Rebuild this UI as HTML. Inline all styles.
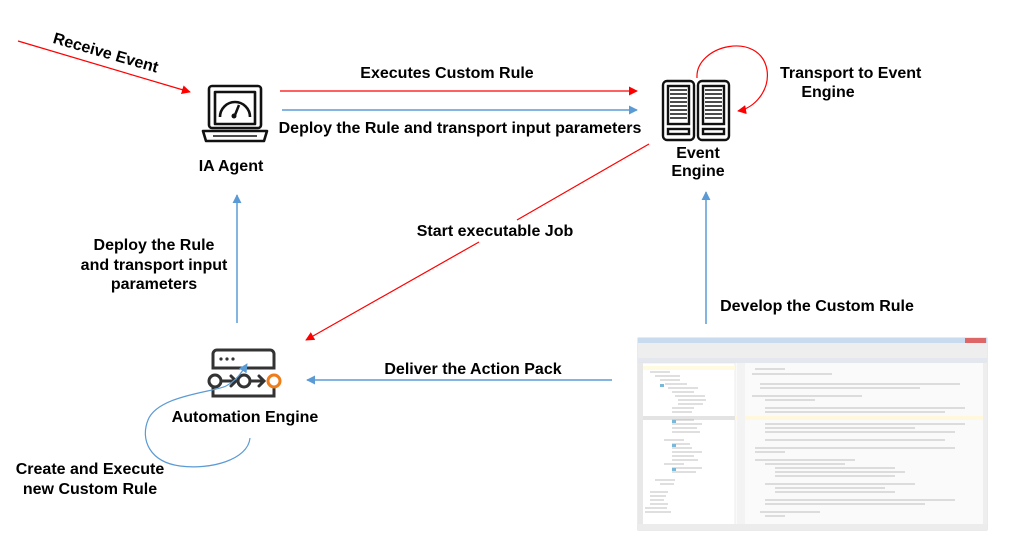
<!DOCTYPE html>
<html><head><meta charset="utf-8"><style>
html,body{margin:0;padding:0;background:#fff;width:1012px;height:553px;overflow:hidden}
svg{display:block}
text{font-family:"Liberation Sans",Arial,sans-serif;font-weight:bold;font-size:16px;fill:#000}
</style></head><body>
<svg width="1012" height="553" viewBox="0 0 1012 553" xmlns="http://www.w3.org/2000/svg">
<defs>
<marker id="r" viewBox="0 0 10 10" refX="9" refY="5" markerWidth="9" markerHeight="9" orient="auto" markerUnits="userSpaceOnUse"><path d="M0,0 L10,5 L0,10 z" fill="#f00"/></marker>
<marker id="b" viewBox="0 0 10 10" refX="9" refY="5" markerWidth="9" markerHeight="9" orient="auto" markerUnits="userSpaceOnUse"><path d="M0,0 L10,5 L0,10 z" fill="#5b9bd5"/></marker>
</defs>
<line x1="18" y1="41" x2="190" y2="92" stroke="#f00" stroke-width="1.2" marker-end="url(#r)"/>
<text x="106" y="58" text-anchor="middle" transform="rotate(16 106 52)">Receive Event</text>

<g fill="none" stroke="#111" stroke-width="2.6" stroke-linejoin="round">
<rect x="209" y="86" width="52" height="42" rx="3"/>
<rect x="215" y="92" width="40" height="32"/>
<path d="M220,117 A15,15 0 0 1 250,117"/>
<path d="M203,131 L267,131 L264,141 L206,141 Z"/>
</g>
<line x1="235" y1="115" x2="239" y2="105" stroke="#111" stroke-width="2.5"/>
<circle cx="234" cy="116" r="2.5" fill="#111"/>
<line x1="213" y1="136" x2="257" y2="136" stroke="#111" stroke-width="1.6"/>
<text x="231" y="171" text-anchor="middle">IA Agent</text>

<line x1="280" y1="91" x2="637" y2="91" stroke="#f00" stroke-width="1.2" marker-end="url(#r)"/>
<line x1="282" y1="110" x2="637" y2="110" stroke="#5b9bd5" stroke-width="1.5" marker-end="url(#b)"/>
<text x="447" y="78" text-anchor="middle">Executes Custom Rule</text>
<text x="460" y="133" text-anchor="middle">Deploy the Rule and transport input parameters</text>

<g fill="none" stroke="#111" stroke-width="2.4">
<rect x="663" y="81" width="31" height="59" rx="4"/>
<rect x="698" y="81" width="31" height="59" rx="4"/>
<rect x="668" y="86" width="21" height="38"/>
<rect x="703" y="86" width="21" height="38"/>
<rect x="668" y="129" width="21" height="5"/>
<rect x="703" y="129" width="21" height="5"/>
</g>
<g stroke="#111" stroke-width="1.5">
<path d="M670,90h17M670,94h17M670,98h17M670,102h17M670,106h17M670,110h17M670,114h17M670,118h17"/>
<path d="M705,90h17M705,94h17M705,98h17M705,102h17M705,106h17M705,110h17M705,114h17M705,118h17"/>
</g>
<text x="698" y="158" text-anchor="middle">Event</text>
<text x="698" y="176" text-anchor="middle">Engine</text>
<path d="M697,78 C695,45 760,30 767,70 C770,90 755,108 738,111" fill="none" stroke="#f00" stroke-width="1.2" marker-end="url(#r)"/>
<text x="780" y="78">Transport to Event</text>
<text x="828" y="97" text-anchor="middle">Engine</text>

<line x1="649" y1="144" x2="517" y2="220" stroke="#f00" stroke-width="1.2"/>
<line x1="479" y1="242" x2="306" y2="340" stroke="#f00" stroke-width="1.2" marker-end="url(#r)"/>
<text x="495" y="236" text-anchor="middle">Start executable Job</text>

<line x1="706" y1="324" x2="706" y2="192" stroke="#5b9bd5" stroke-width="1.5" marker-end="url(#b)"/>
<text x="817" y="311" text-anchor="middle">Develop the Custom Rule</text>

<line x1="237" y1="323" x2="237" y2="195" stroke="#5b9bd5" stroke-width="1.5" marker-end="url(#b)"/>
<text x="154" y="250" text-anchor="middle">Deploy the Rule</text>
<text x="154" y="270" text-anchor="middle">and transport input</text>
<text x="154" y="289" text-anchor="middle">parameters</text>

<g fill="none" stroke="#333" stroke-width="3" stroke-linecap="round">
<path d="M213,368 V354 a4,4 0 0 1 4,-4 H270 a4,4 0 0 1 4,4 V368 Z"/>
<path d="M213,388 V396 H274 V388"/>
<circle cx="215" cy="381" r="6"/>
<circle cx="244" cy="381" r="6"/>
<path d="M222,381 H235 M231,376 L236,381 L231,386"/>
<path d="M251,381 H263 M259,376 L264,381 L259,386"/>
</g>
<circle cx="274" cy="381" r="6" fill="none" stroke="#ee7d1a" stroke-width="3"/>
<g fill="#333"><circle cx="221" cy="359" r="1.6"/><circle cx="227" cy="359" r="1.6"/><circle cx="233" cy="359" r="1.6"/></g>
<text x="245" y="422" text-anchor="middle">Automation Engine</text>
<path d="M250,438 C248,460 210,470 180,466 C150,462 140,440 148,420 C158,395 215,392 226,386 C236,381 242,372 247,364" fill="none" stroke="#5b9bd5" stroke-width="1.2" marker-end="url(#b)"/>
<text x="90" y="474" text-anchor="middle">Create and Execute</text>
<text x="90" y="494" text-anchor="middle">new Custom Rule</text>

<line x1="612" y1="380" x2="307" y2="380" stroke="#5b9bd5" stroke-width="1.5" marker-end="url(#b)"/>
<text x="473" y="374" text-anchor="middle">Deliver the Action Pack</text>

<g>
<rect x="638" y="338" width="349" height="192" fill="#fafafa" stroke="#ccc" stroke-width="0.8"/>
<rect x="638" y="338" width="349" height="5" fill="#c9dcef"/>
<rect x="965" y="338" width="21" height="5" fill="#d66"/>
<rect x="638" y="343" width="349" height="15" fill="#eeeeee"/>
<rect x="638" y="358" width="349" height="5" fill="#e4e8ee"/>
<rect x="638" y="363" width="97" height="162" fill="#fff" stroke="#ddd" stroke-width="0.5"/>
<rect x="638" y="363" width="5" height="162" fill="#e8e8e8"/>
<rect x="643" y="366" width="92" height="4" fill="#fffbe0"/>
<rect x="643" y="416" width="92" height="4" fill="#e3e3e3"/>
<rect x="735" y="416" width="250" height="4" fill="#fff8dc"/>
<rect x="737" y="363" width="8" height="162" fill="#f3f3f3"/>
<rect x="983" y="363" width="4" height="162" fill="#eee"/>
<rect x="638" y="524" width="349" height="6" fill="#ececec"/>
<g stroke="#aaa" stroke-width="0.7">
<path d="M650,372h20M655,376h25M660,380h20M665,384h22M668,388h30M672,392h22M675,396h30M678,400h28M678,404h25M672,408h22M672,412h20M672,420h22M672,424h30M672,428h25M672,432h28M664,440h20M672,444h18M672,448h20M672,452h30M672,456h22M672,460h26M664,464h20M672,468h30M672,472h24M655,480h20M660,484h14M650,492h18M650,496h16M650,500h14M650,504h18M645,508h22M645,512h26"/>
<path d="M755,369h30M752,374h80M760,384h200M760,388h160M752,396h110M765,400h50M765,408h200M765,412h180M765,424h200M765,428h150M765,432h190M765,440h180M755,448h200M755,452h30M755,460h100M765,464h80M775,468h120M775,472h130M775,476h120M765,484h150M775,488h110M775,492h120M765,500h190M765,504h160M760,512h60M765,516h20"/>
</g>
<g fill="#7ab8d8"><rect x="660" y="384" width="4" height="3"/><rect x="672" y="420" width="4" height="3"/><rect x="672" y="444" width="4" height="3"/><rect x="672" y="468" width="4" height="3"/></g>
</g>
</svg>
</body></html>
